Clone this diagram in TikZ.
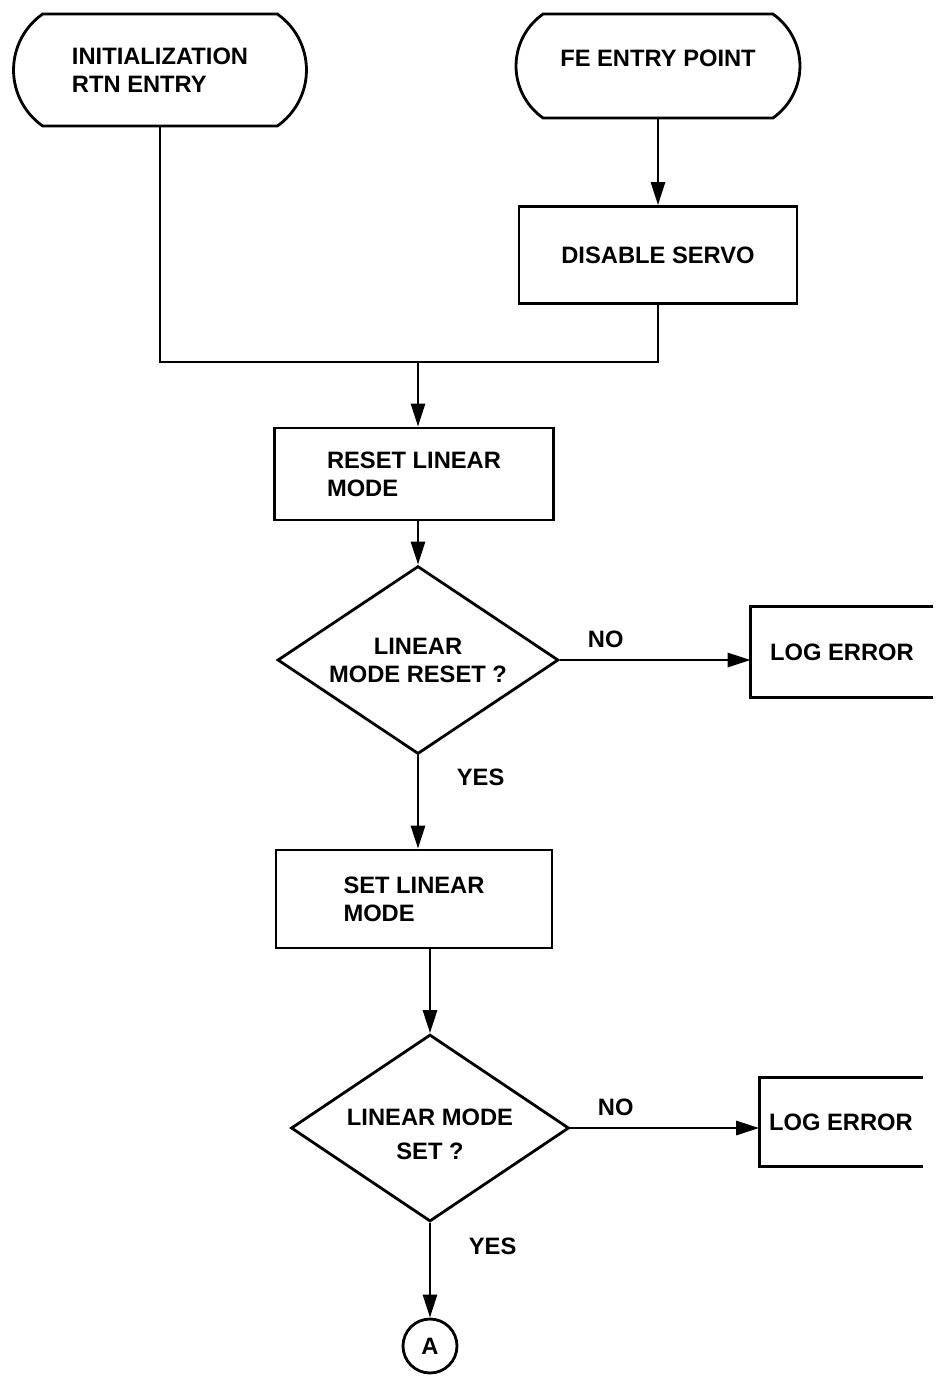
\documentclass[tikz,border=0pt]{standalone}
\usepackage{fontspec}
\setsansfont{Liberation Sans}
\usepackage{tikz}
\usetikzlibrary{arrows.meta,positioning,shapes.geometric,shapes.misc,calc}
\tikzset{
  terminal/.style={draw,rounded rectangle,rounded rectangle arc length=110,
                   line width=1.6pt,inner sep=0pt,align=left},
  process/.style={draw,rectangle,line width=1.6pt,inner sep=0pt,align=left},
  decision/.style={draw,diamond,aspect=1.5,line width=1.6pt,inner sep=0pt,
                   align=center},
  errorbox/.style={rectangle,inner sep=0pt,minimum height=1.8cm},
  connector/.style={draw,circle,line width=1.6pt,minimum size=1.08cm,inner sep=0pt},
  arrowmain/.style={-{Triangle[length=4.6mm,width=2.8mm]},line width=1.6pt},
  linemain/.style={line width=1.6pt},
  reply/.style={font=\sffamily\bfseries\fontsize{13.5}{16}\selectfont},
}

\begin{document}
\begin{tikzpicture}[x=0.02cm,y=-0.02cm,
  every node/.style={font=\sffamily\bfseries\fontsize{13.5}{16}\selectfont}]
  \useasboundingbox (0,0) rectangle (938,1377);
  % entry points
  \node[terminal,minimum width=5.86cm,minimum height=2.24cm]
    (init) at (160,70) {INITIALIZATION\\RTN ENTRY};
  \node[terminal,minimum width=5.68cm,minimum height=2.08cm,text depth=9pt]
    (fe) at (658,66) {FE ENTRY POINT};
  \node[process,minimum width=5.56cm,minimum height=1.94cm]
    (servo) at (658,255) {DISABLE SERVO};
  \coordinate (join) at (418,362);
  \node[process,minimum width=5.58cm,minimum height=1.84cm]
    (reset) at (414,474) {RESET LINEAR\\MODE};
  \node[decision,minimum width=5.62cm,minimum height=3.76cm]
    (chkreset) at (418,660) {LINEAR\\MODE RESET ?};
  \node[errorbox,minimum width=3.64cm,minimum height=1.82cm]
    (errA) at (842,652) {LOG ERROR};
  \node[process,minimum width=5.52cm,minimum height=1.96cm]
    (setmode) at (414,899) {SET LINEAR\\MODE};
  \node[decision,minimum width=5.56cm,minimum height=3.74cm]
    (chkset) at (430,1128)
    {\raisebox{-18pt}[0pt][0pt]{\shortstack{LINEAR MODE\\[7pt]SET ?}}};
  \node[errorbox,minimum width=3.26cm,minimum height=1.76cm]
    (errB) at (841,1122) {LOG ERROR};
  \node[connector] (pageA) at (430,1346) {A};

  % open-ended error boxes
  \draw[linemain] (errA.north east)--(errA.north west)--(errA.south west)
    --(errA.south east);
  \draw[linemain] (errB.north east)--(errB.north west)--(errB.south west)
    --(errB.south east);

  % flow
  \draw[arrowmain] (fe.south)--(servo.north);
  \draw[linemain] (init.south)|-(join);
  \draw[linemain] (servo.south)|-(join);
  \draw[arrowmain] (join)--(join|-reset.north);
  \draw[arrowmain] (reset.south-|chkreset.north)--(chkreset.north);
  \draw[arrowmain] (chkreset.east)--node[reply,pos=0.24,above=3pt]{NO}
    (chkreset.east-|errA.west);
  \draw[arrowmain] (chkreset.south)--node[reply,pos=0.24,right=18pt]{YES}
    (chkreset.south|-setmode.north);
  \draw[arrowmain] (setmode.south-|chkset.north)--(chkset.north);
  \draw[arrowmain] (chkset.east)--node[reply,pos=0.24,above=3pt]{NO}
    (chkset.east-|errB.west);
  \draw[arrowmain] (chkset.south)--node[reply,pos=0.25,right=18pt]{YES}
    (pageA.north);
\end{tikzpicture}
\end{document}
